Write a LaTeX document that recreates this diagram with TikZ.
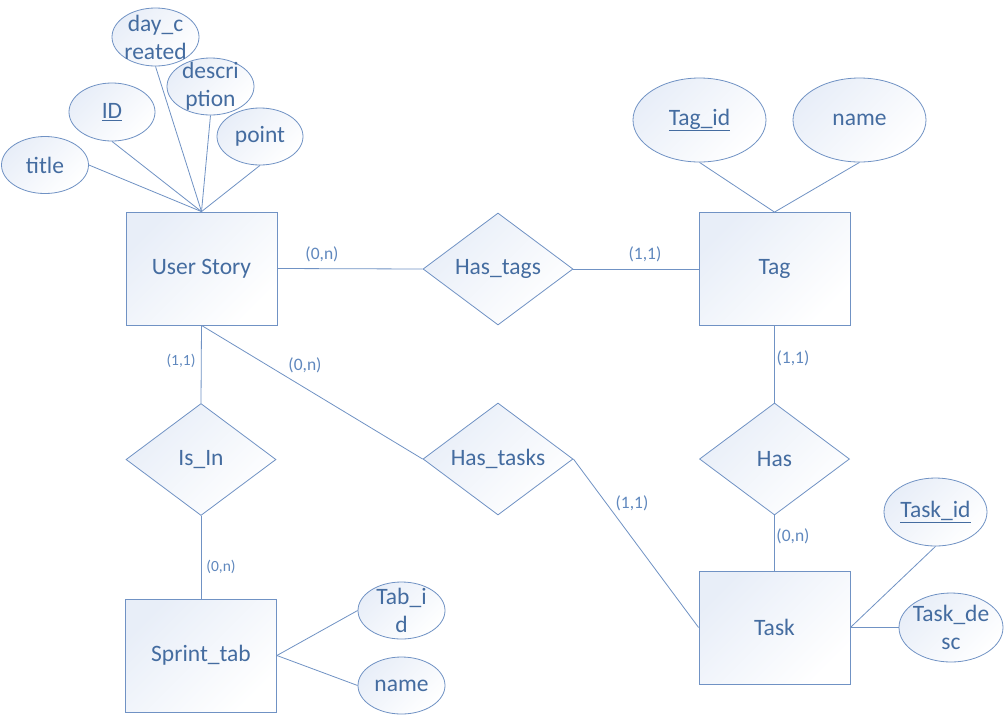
\documentclass[tikz,border=0pt]{standalone}
\usepackage{fontspec}
\setmainfont{Carlito}
\usetikzlibrary{shapes.geometric}
\definecolor{erline}{RGB}{112,146,196}
\definecolor{ertext}{RGB}{68,108,160}
\definecolor{ercard}{RGB}{96,136,190}
\definecolor{erfill}{RGB}{232,238,248}
\tikzset{
  base/.style={draw=erline, line width=0.8pt, top color=erfill, bottom color=white, shading angle=45},
  entity/.style={base, rectangle, minimum width=151pt, minimum height=113pt, inner sep=0pt,
     text=ertext, font=\fontsize{23.5}{28}\selectfont},
  relation/.style={base, diamond, aspect=1.34, minimum width=150pt, minimum height=112pt, inner sep=0pt,
     text=ertext, font=\fontsize{23.5}{28}\selectfont},
  attr/.style={base, ellipse, inner sep=0pt},
  attrtext/.style={text=ertext, font=\fontsize{23.5}{28}\selectfont, align=center, inner sep=0pt},
  conn/.style={draw=erline, line width=0.8pt},
  card/.style={text=ercard, font=\fontsize{17.5}{20}\selectfont, inner sep=0pt},
  cards/.style={text=ercard, font=\fontsize{15.5}{18}\selectfont, inner sep=0pt},
}
\begin{document}
\begin{tikzpicture}[x=1pt,y=-1pt]
\useasboundingbox[fill=white] (0,0) rectangle (1005,716);
% attributes (drawn first so lines go over? lines drawn after)
\node[attr, minimum width=87pt, minimum height=57pt, label={[attrtext]center:title}] (title) at (45,165) {};
\node[attr, minimum width=86pt, minimum height=58pt, label={[attrtext]center:\underline{ID}}] (id) at (112,112) {};
\node[attr, minimum width=87pt, minimum height=58pt, label={[attrtext]center:day\_c\\reated}] (dc) at (155.5,37) {};
\node[attr, minimum width=87pt, minimum height=57pt, label={[attrtext]center:descri\\ption}] (desc) at (210.5,86.5) {};
\node[attr, minimum width=86pt, minimum height=57pt, label={[attrtext]center:point}] (point) at (260,136.5) {};

\node[attr, minimum width=133pt, minimum height=84pt, label={[attrtext]center:\underline{Tag\_id}}] (tagid) at (699.5,120) {};
\node[attr, minimum width=133pt, minimum height=84pt, label={[attrtext]center:name}] (tagname) at (859.5,120) {};

\node[attr, minimum width=103pt, minimum height=68pt, label={[attrtext]center:\underline{Task\_id}}] (taskid) at (935.5,512) {};
\node[attr, minimum width=104pt, minimum height=69pt, label={[attrtext]center:Task\_de\\sc}] (taskdesc) at (951,627.5) {};

\node[attr, minimum width=87pt, minimum height=57pt, label={[attrtext]center:Tab\_i\\d}] (tabid) at (401.5,610.5) {};
\node[attr, minimum width=87pt, minimum height=57pt, label={[attrtext]center:name}] (sname) at (401.5,685.5) {};

% entities
\node[entity] (us) at (201.5,268.5) {User Story};
\node[entity] (tag) at (774.5,269) {Tag};
\node[entity] (sprint) at (201,655.5) {Sprint\_tab};
\node[entity] (task) at (774.5,627.5) {Task};

% relationships
\node[relation] (hastags) at (498,269) {Has\_tags};
\node[relation] (isin) at (201,459.5) {Is\_In};
\node[relation] (hastasks) at (498,459) {Has\_tasks};
\node[relation] (has) at (774.5,459) {Has};

% attribute connectors
\draw[conn] (title.east) -- (us.north);
\draw[conn] (id.south) -- (us.north);
\draw[conn] (dc.south) -- (us.north);
\draw[conn] (desc.south) -- (us.north);
\draw[conn] (point.south) -- (us.north);
\draw[conn] (tagid.south) -- (tag.north);
\draw[conn] (tagname.south) -- (tag.north);
\draw[conn] (taskid.south) -- (task.east);
\draw[conn] (taskdesc.west) -- (task.east);
\draw[conn] (tabid.west) -- (sprint.east);
\draw[conn] (sname.west) -- (sprint.east);

% relationship connectors
\draw[conn] (us.east) -- (hastags.west);
\draw[conn] (hastags.east) -- (tag.west);
\draw[conn] (tag.south) -- (has.north);
\draw[conn] (has.south) -- (task.north);
\draw[conn] (us.south) -- (isin.north);
\draw[conn] (isin.south) -- (sprint.north);
\draw[conn] (us.south) -- (hastasks.west);
\draw[conn] (hastasks.east) -- (task.west);

% cardinalities
\node[card] (c1) at (322,254) {(0,n)};
\node[card] (c2) at (645,254) {(1,1)};
\node[card] (c3) at (793,358) {(1,1)};
\node[card] (c4) at (793,536) {(0,n)};
\node[cards] (c5) at (181,361) {(1,1)};
\node[cards] (c6) at (221,567) {(0,n)};
\node[card] (c7) at (305,365) {(0,n)};
\node[card] (c8) at (632,503) {(1,1)};
\end{tikzpicture}
\end{document}
